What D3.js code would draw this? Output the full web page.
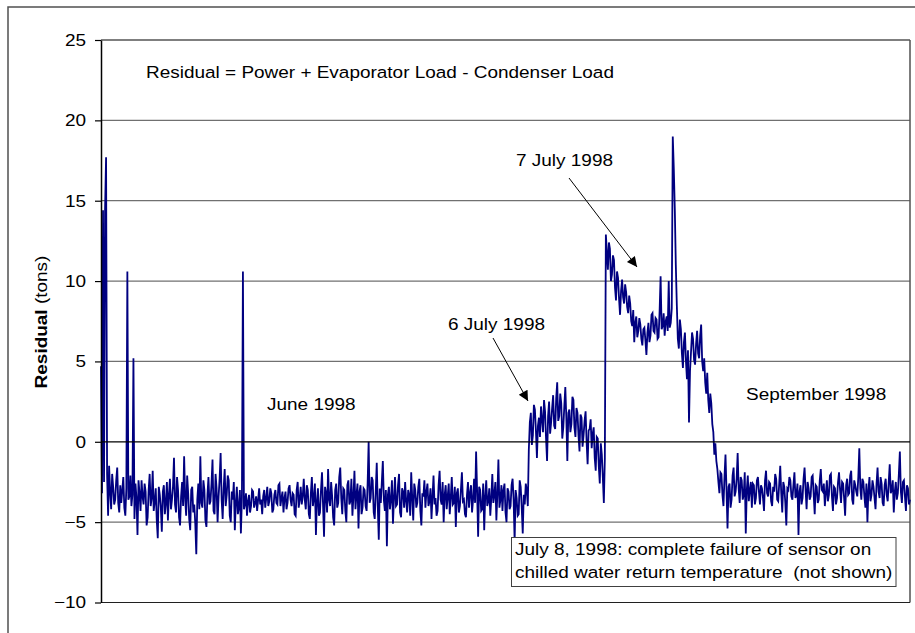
<!DOCTYPE html>
<html>
<head>
<meta charset="utf-8">
<script src="https://d3js.org/d3.v7.min.js"></script>
<style>
  body { margin: 0; background: #fff; }
  text { font-family: "Liberation Sans", Arial, sans-serif; }
</style>
</head>
<body>
<div id="my_dataviz"></div>
<script>
// residual readings, in tons in reading order
var juneResidual = [
  4.7, -3.2, 14.4, -2.5, 14.4, 17.7, -2.0, -4.6, -1.5, -3.1, -4.2, -2.0, -2.8, -3.9, -3.6, -2.4, -1.6, -3.8, -4.4, -2.7,
  -3.8, -3.0, -2.2, -4.1, -4.6, -2.9, 10.6, -3.6, -3.4, -2.1, -4.0, -3.3, 5.2, -4.8, -2.6, -3.5, -5.8, -2.4, -3.2, -4.3,
  -2.4, -3.4, -3.9, -2.6, -3.1, -5.2, -4.7, -3.0, -2.0, -4.0, -3.5, -1.8, -4.3, -3.7, -2.9, -4.9, -6.0, -2.8, -3.3, -4.1,
  -5.6, -3.1, -2.7, -4.5, -3.8, -2.5, -4.9, -3.3, -2.3, -4.2, -3.6, -2.8, -1.0, -3.9, -4.4, -2.2, -3.0, -4.7, -5.2, -3.4,
  -2.5, -4.0, -0.9, -3.5, -4.6, -2.1, -3.2, -4.8, -5.5, -3.0, -2.8, -4.4, -3.9, -5.1, -7.0, -3.6, -2.6, -4.2, -0.9, -3.8,
  -4.1, -2.4, -3.0, -4.9, -5.3, -3.3, -2.2, -3.9, -3.7, -2.6, -1.1, -4.3, -4.5, -2.0, -2.9, -5.0, -3.4, -2.3, -0.7, -3.6,
  -4.8, -2.9, -1.7, -4.0, -3.3, -2.1, -2.4, -4.6, -5.0, -3.1, -3.6, -2.5, -5.5, -3.8, -2.8, -4.5, -4.1, -3.0, -5.7, -3.5,
  10.6, -4.2, -3.9, -3.2, -4.6, -3.7, -3.3, -4.4, -4.0, -3.0, -3.1, -4.1, -3.8, -3.4, -4.3, -3.6, -2.9, -3.9, -3.6, -4.5,
  -3.4, -3.0, -4.1, -3.5, -2.8, -4.0, -3.7, -2.9, -3.2, -4.4, -4.2, -3.3, -3.0, -3.8, -3.9, -2.7, -2.6, -4.0, -3.5, -3.1,
  -4.4, -3.5, -3.1, -4.2, -3.8, -2.9, -2.7, -3.6, -4.0, -3.2, -3.3, -4.5, -4.6, -3.0, -2.5, -4.1, -3.6, -2.8, -3.9, -3.4,
  -2.3, -3.6, -4.2, -2.7, -3.0, -4.5, -4.8, -3.2, -2.2, -4.0, -3.5, -2.6, -5.8, -3.7, -2.9, -4.6, -4.4, -3.0, -1.9, -3.9,
  -5.9, -2.8, -3.2, -4.4, -1.7, -3.6, -4.0, -2.5, -3.4, -4.7, -5.2, -3.0, -2.6, -4.1, -3.8, -2.2, -1.6, -3.5, -4.5, -2.9,
  -3.0, -4.3, -5.0, -2.7, -2.4, -3.9, -3.7, -2.3, -4.6, -3.4, -1.8, -4.2, -3.3, -2.6, -5.4, -3.1, -2.7, -4.5, -4.1, -2.9,
  -3.0, -4.0, -4.3, -2.6, 0.0, -3.8, -3.5, -2.2, -2.4, -4.4, -4.8, -3.1, -1.3, -4.0, -6.1, -2.9, -3.8, -2.5, -1.2, -3.6,
  -4.3, -3.0, -6.5, -3.3, -2.8, -4.2, -3.6, -2.4, -5.1, -3.5, -2.2, -4.0, -3.9, -2.7, -2.0, -4.4, -4.7, -2.9, -3.1, -4.1,
  -2.5, -3.7, -4.4, -3.0, -3.3, -4.6, -1.9, -3.5, -4.9, -2.6, -3.0, -4.1, -3.8, -2.8, -2.3, -4.3, -5.2, -3.2, -3.4, -2.4,
  -4.1, -3.1, -2.6, -4.0, -3.7, -2.9, -4.8, -3.4, -2.1, -3.9, -3.5, -4.6, -4.3, -2.7, -1.8, -3.6, -3.9, -2.5, -5.0, -3.3,
  -2.7, -4.2, -3.4, -2.6, -4.5, -3.5, -2.2, -3.9, -3.8, -2.8, -5.3, -3.2, -2.9, -4.4, -4.0, -3.0, -1.9, -3.7, -3.6, -4.5,
  -4.7, -3.3, -2.5, -4.1, -3.2, -2.7, -4.4, -3.6, -2.3, -3.8, -0.6, -3.1, -5.9, -2.8, -3.0, -4.3, -4.2, -2.6, -5.5, -3.4,
  -2.4, -4.0, -3.7, -2.9, -4.6, -3.5, -2.0, -3.8, -3.3, -2.5, -4.9, -3.2, -1.1, -4.1, -3.6, -2.7, -4.3, -3.0, -2.6, -4.4,
  -5.0, -2.9, -3.1, -4.2, -4.0, -2.7, -2.3, -3.6, -6.2, -3.0, -3.5, -4.6, -4.5, -2.4, -2.8, -4.1, -5.7, -3.3, -3.9, -2.6,
  -3.0, -4.0
];
var july6Residual = [
  -0.5, 1.2, 1.8, -0.2, 0.4, 2.3, 2.0, 0.7, -1.0, 1.0, 1.5, 0.3, 2.2, 1.4, 0.6, 2.6, 1.9, 0.2, -1.2, 1.6,
  2.5, 0.5, 1.2, 2.1, 2.9, 1.0, 0.8, 2.7, 3.7, 1.3, 1.6, 3.0, 2.4, 0.2, 0.9, 2.2, 3.4, 1.5, -1.2, 1.8,
  2.0, 0.6, 1.1, 2.8, 2.6, 0.9, 0.3, 2.1, 1.8, 0.4, -0.6, 1.7, 1.5, -0.3, 0.4, 1.3, 1.9, 0.0, -1.4, 0.7,
  0.8, 1.4, -0.4, 0.5, 0.9, -1.0, -1.8, 0.3, 0.2, -1.5, -2.6, -0.1, -0.8, -2.2, -3.8, -1.0
];
var july7Residual = [
  12.9, 11.8, 10.7, 12.4, 12.0, 10.0, 10.4, 11.6, 11.3, 9.6, 8.8, 10.6, 10.2, 8.9, 7.9, 9.4, 10.1, 9.0, 8.6, 9.8,
  9.3, 8.4, 8.0, 9.1, 8.6, 7.5, 7.2, 8.2, 6.2, 7.4, 7.8, 6.5, 6.9, 7.7, 7.3, 6.4, 6.0, 7.0, 7.1, 6.3,
  5.4, 6.8, 7.4, 6.2, 6.6, 7.9, 8.0, 6.9, 6.8, 7.7, 7.6, 6.4, 6.5, 8.1, 10.3, 7.0, 7.2, 8.0, 6.6, 7.5,
  7.8, 6.9, 10.0, 7.1, 7.4, 8.3, 19.0, 17.0, 14.5, 11.0, 8.5, 6.4, 5.8, 7.6, 7.0, 5.5, 4.6, 6.2, 6.8, 5.0,
  3.9, 5.7, 1.2, 4.4, 5.6, 6.8, 6.4, 5.1, 4.8, 6.1, 6.9, 5.5, 5.2, 6.6, 7.3, 5.0, 4.4, 5.2, 3.7, 3.0,
  4.3, 2.6, 1.8, 3.0, 2.4, 1.1, 0.6, -0.8, -0.1, -1.2
];
var septResidual = [
  -1.7, -2.5, -3.2, -1.9, -2.0, -3.3, -4.0, -2.2, -0.8, -3.0, -5.4, -2.8, -2.6, -4.1, -3.6, -2.1, -1.6, -3.4, -3.1, -2.3,
  -0.7, -2.9, -3.8, -2.2, -2.4, -3.6, -3.3, -1.9, -5.7, -3.0, -2.1, -3.7, -3.0, -2.5, -4.1, -2.6, -2.7, -3.9, -3.5, -2.4,
  -2.2, -3.1, -3.9, -2.7, -2.9, -3.5, -4.3, -2.4, -1.8, -3.2, -3.4, -2.5, -2.6, -3.7, -4.0, -2.8, -3.1, -2.0, -2.3, -3.6,
  -3.7, -2.6, -1.5, -3.2, -4.4, -2.5, -2.8, -3.8, -5.2, -2.9, -3.0, -2.2, -2.4, -3.4, -3.6, -2.7, -1.9, -3.5, -3.3, -2.6,
  -5.8, -3.1, -2.7, -3.9, -3.5, -2.3, -1.6, -3.0, -4.2, -2.5, -2.9, -3.6, -3.4, -2.2, -2.1, -3.3, -4.5, -2.7, -2.8, -3.8,
  -3.6, -2.4, -1.7, -3.0, -3.1, -2.6, -4.0, -3.2, -2.4, -3.7, -3.3, -2.1, -2.0, -3.4, -4.3, -2.8, -2.9, -3.9, -3.5, -2.5,
  -1.9, -3.0, -3.8, -2.5, -2.6, -3.5, -4.6, -2.7, -2.3, -3.3, -3.2, -2.1, -1.8, -3.6, -3.9, -2.4, -2.7, -3.1, -3.4, -2.2,
  -0.4, -2.9, -3.6, -2.3, -2.5, -3.4, -4.1, -2.6, -5.0, -3.0, -2.2, -3.7, -3.3, -2.4, -2.8, -3.5, -4.2, -2.6, -1.6, -3.1,
  -3.5, -2.2, -2.6, -3.8, -4.0, -2.7, -2.3, -3.3, -3.7, -2.5, -1.4, -3.2, -3.0, -2.4, -4.4, -3.1, -2.5, -3.6, -3.2, -2.0,
  -0.6, -3.1, -3.8, -2.5, -2.4, -3.4, -4.3, -2.7, -2.9, -3.9, -3.6
];
var yTicks = [-10, -5, 0, 5, 10, 15, 20, 25];

var residual = juneResidual.concat(july6Residual, july7Residual, septResidual);

var margin = {top: 40, right: 5, bottom: 30, left: 101},
    width = 910 - margin.left,
    height = 602.5 - margin.top;

// the original text is a little wider than plain Arial
var stretch = "scale(1.15,1)";

var svg = d3.select("#my_dataviz")
  .append("svg")
  .attr("width", 915)
  .attr("height", 633);

// chart area border (right and bottom edges fall outside the window)
svg.append("rect")
  .attr("x", 8).attr("y", 7)
  .attr("width", 940).attr("height", 660)
  .attr("fill", "none")
  .attr("stroke", "#505050")
  .attr("stroke-width", 1.5);

var g = svg.append("g")
  .attr("transform", "translate(" + margin.left + "," + margin.top + ")");

var x = d3.scaleLinear()
  .domain([0, residual.length - 1])
  .range([0, width]);

var y = d3.scaleLinear()
  .domain([-10, 25])
  .range([height, 0]);

// gridlines
g.selectAll(".grid")
  .data(yTicks.filter(function(d) { return d != -10 && d != 25 && d != 0; }))
  .enter()
  .append("line")
  .attr("class", "grid")
  .attr("x1", 0).attr("x2", width)
  .attr("y1", function(d) { return y(d); })
  .attr("y2", function(d) { return y(d); })
  .attr("stroke", "#707070")
  .attr("stroke-width", 1.2);

// plot area frame
g.append("line").attr("x1", 0).attr("x2", width).attr("y1", y(25)).attr("y2", y(25))
  .attr("stroke", "#000").attr("stroke-width", 1.2);
g.append("line").attr("x1", width).attr("x2", width).attr("y1", y(25)).attr("y2", y(-10))
  .attr("stroke", "#505050").attr("stroke-width", 1.5);
g.append("line").attr("x1", 0).attr("x2", width).attr("y1", y(-10)).attr("y2", y(-10))
  .attr("stroke", "#202020").attr("stroke-width", 1.2);

// the series
var line = d3.line()
  .x(function(d, i) { return x(i); })
  .y(function(d) { return y(d); });

g.append("path")
  .datum(residual)
  .attr("fill", "none")
  .attr("stroke", "#000080")
  .attr("stroke-width", 1.8)
  .attr("stroke-linejoin", "miter")
  .attr("d", line);

// zero line (category axis) on top
g.append("line").attr("x1", 0).attr("x2", width).attr("y1", y(0)).attr("y2", y(0))
  .attr("stroke", "#000").attr("stroke-width", 1.2);

// y axis
var yAxis = g.append("g")
  .call(d3.axisLeft(y).tickValues(yTicks).tickSize(6).tickSizeOuter(0).tickPadding(7));
yAxis.select(".domain").attr("stroke", "#000").attr("stroke-width", 1.5);
yAxis.selectAll(".tick line").attr("stroke", "#000").attr("stroke-width", 1.2);
yAxis.selectAll(".tick text")
  .attr("font-family", "Liberation Sans, Arial, sans-serif")
  .attr("font-size", "16.5px")
  .attr("fill", "#000")
  .attr("transform", stretch);

// y title
var yTitle = svg.append("text")
  .attr("transform", "translate(47,322) rotate(-90) " + stretch)
  .attr("text-anchor", "middle")
  .attr("font-size", "16.5px");
yTitle.append("tspan").attr("font-weight", "bold").text("Residual");
yTitle.append("tspan").text(" (tons)");

// annotations
var notes = [
  {text: "Residual = Power + Evaporator Load - Condenser Load", x: 146, y: 78},
  {text: "June 1998", x: 267, y: 410},
  {text: "6 July 1998", x: 448, y: 330},
  {text: "7 July 1998", x: 516, y: 166},
  {text: "September 1998", x: 746, y: 400}
];
svg.selectAll(".note")
  .data(notes)
  .enter()
  .append("text")
  .attr("class", "note")
  .attr("transform", function(d) { return "translate(" + d.x + "," + d.y + ") " + stretch; })
  .attr("font-size", "16.5px")
  .attr("fill", "#000")
  .text(function(d) { return d.text; });

// arrows
svg.append("defs").append("marker")
  .attr("id", "head")
  .attr("viewBox", "0 0 10 10")
  .attr("refX", 10).attr("refY", 5)
  .attr("markerWidth", 13).attr("markerHeight", 10)
  .attr("markerUnits", "userSpaceOnUse")
  .attr("orient", "auto")
  .append("path")
  .attr("d", "M0,0L10,5L0,10Z")
  .attr("fill", "#000");

var arrows = [
  {x1: 493, y1: 338, x2: 528, y2: 401},
  {x1: 569, y1: 178, x2: 637, y2: 267}
];
svg.selectAll(".arrow")
  .data(arrows)
  .enter()
  .append("line")
  .attr("class", "arrow")
  .attr("x1", function(d) { return d.x1; })
  .attr("y1", function(d) { return d.y1; })
  .attr("x2", function(d) { return d.x2; })
  .attr("y2", function(d) { return d.y2; })
  .attr("stroke", "#000")
  .attr("stroke-width", 1)
  .attr("marker-end", "url(#head)");

// failure note box
svg.append("rect")
  .attr("x", 511.5).attr("y", 537.5)
  .attr("width", 384.5).attr("height", 49)
  .attr("fill", "#fff")
  .attr("stroke", "#404040")
  .attr("stroke-width", 1);

var boxLines = ["July 8, 1998: complete failure of sensor on",
                "chilled water return temperature  (not shown)"];
svg.selectAll(".boxline")
  .data(boxLines)
  .enter()
  .append("text")
  .attr("class", "boxline")
  .attr("transform", function(d, i) { return "translate(515," + (555 + i * 22.5) + ") " + stretch; })
  .attr("font-size", "16.5px")
  .style("white-space", "pre")
  .text(function(d) { return d; });
</script>
</body>
</html>
